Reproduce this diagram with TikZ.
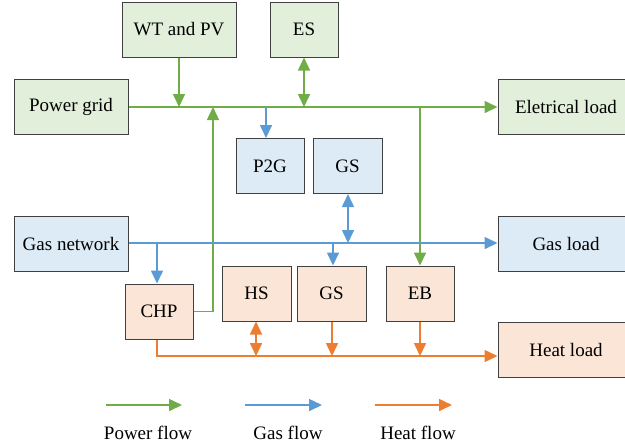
\documentclass[tikz,border=0pt]{standalone}
\usepackage{fontspec}
\setmainfont{Liberation Serif}
\usetikzlibrary{arrows.meta}

\definecolor{pwr}{HTML}{70AD47}
\definecolor{gas}{HTML}{5B9BD5}
\definecolor{heat}{HTML}{ED7D31}
\definecolor{pwrfill}{HTML}{E2EFDA}
\definecolor{gasfill}{HTML}{DDEBF7}
\definecolor{heatfill}{HTML}{FBE5D6}

\tikzset{
    unit/.style={draw=black!75, line width=0.5pt, inner sep=0pt, minimum height=27.5pt,
        font=\fontsize{9.5}{11}\selectfont},
    pbox/.style={unit, fill=pwrfill},
    gbox/.style={unit, fill=gasfill},
    hbox/.style={unit, fill=heatfill},
    flow/.style={line width=0.8pt, -{Triangle[length=6.5pt, width=6pt]}},
    bothflow/.style={line width=0.8pt, {Triangle[length=6.5pt, width=6pt]}-{Triangle[length=6.5pt, width=6pt]}},
}

\begin{document}
\begin{tikzpicture}[x=0.5pt, y=-0.5pt]
        \useasboundingbox (0,0) rectangle (625,447);
        \clip (0,0) rectangle (625,447);

        % --- Réseau électrique ---
        \node[pbox, minimum width=57pt] (wtpv)  at (179, 29.5) {WT and PV};
        \node[pbox, minimum width=34pt] (es)    at (304, 29.5) {ES};
        \node[pbox, minimum width=57pt] (grid)  at (71, 107)   {Power grid};
        \node[pbox, minimum width=68pt] (eload) at (566, 107)  {Eletrical load};

        % --- Réseau de gaz ---
        \node[gbox, minimum width=34pt]   (p2g)    at (270, 166)   {P2G};
        \node[gbox, minimum width=34.5pt] (gsup)   at (347.5, 166) {GS};
        \node[gbox, minimum width=57pt]   (gasnet) at (71, 243.5)  {Gas network};
        \node[gbox, minimum width=68pt]   (gload)  at (566, 243.5) {Gas load};

        % --- Réseau de chaleur ---
        \node[hbox, minimum width=34pt]   (chp)   at (159, 311.5)   {CHP};
        \node[hbox, minimum width=34.5pt] (hs)    at (256.5, 293.5) {HS};
        \node[hbox, minimum width=34.5pt] (gsdn)  at (331.5, 293.5) {GS};
        \node[hbox, minimum width=34pt]   (eb)    at (420, 293.5)   {EB};
        \node[hbox, minimum width=68pt]   (hload) at (566, 350)     {Heat load};

        % --- Points de jonction ---
        \coordinate (pwt)  at (179, 107);
        \coordinate (pes)  at (304, 107);
        \coordinate (pchp) at (213, 107);
        \coordinate (pp2g) at (266, 107);
        \coordinate (peb)  at (420, 107);
        \coordinate (gchp) at (157, 243);
        \coordinate (ggs)  at (348, 243);
        \coordinate (ggsd) at (333, 243);
        \coordinate (hchp) at (157, 356);
        \coordinate (hhs)  at (256, 356);
        \coordinate (hgs)  at (332, 356);
        \coordinate (heb)  at (420, 356);

        % ==============================================================
        % Flux électrique
        % ==============================================================
        \draw[flow, pwr] (grid.east) -- (eload.west);
        \draw[flow, pwr] (wtpv.south) -- (pwt);
        \draw[bothflow, pwr] (es.south) -- (pes);
        \draw[flow, pwr] (chp.east) -| (pchp);
        \draw[flow, pwr] (peb) -- (eb.north);
        \draw[flow, gas] (pp2g) -- (p2g.north -| pp2g);

        % ==============================================================
        % Flux de gaz
        % ==============================================================
        \draw[flow, gas] (gasnet.east |- 0,243) -- (gload.west |- 0,243);
        \draw[flow, gas] (gchp) -- (chp.north -| gchp);
        \draw[bothflow, gas] (gsup.south -| ggs) -- (ggs);
        \draw[flow, gas] (ggsd) -- (gsdn.north -| ggsd);

        % ==============================================================
        % Flux de chaleur
        % ==============================================================
        \draw[flow, heat] (chp.south -| hchp) -- (hchp) -- (hload.west |- hchp);
        \draw[bothflow, heat] (hs.south -| hhs) -- (hhs);
        \draw[flow, heat] (gsdn.south -| hgs) -- (hgs);
        \draw[flow, heat] (eb.south) -- (heb);

        % --- Légende ---
        \coordinate (lp1) at (106, 405);  \coordinate (lp2) at (182, 405);
        \coordinate (lg1) at (245, 405);  \coordinate (lg2) at (322, 405);
        \coordinate (lh1) at (375, 405);  \coordinate (lh2) at (452, 405);
        \draw[flow, pwr]  (lp1) -- (lp2);
        \draw[flow, gas]  (lg1) -- (lg2);
        \draw[flow, heat] (lh1) -- (lh2);
        \node[font=\fontsize{9.5}{11}\selectfont] (lpt) at (148, 433) {Power flow};
        \node[font=\fontsize{9.5}{11}\selectfont] (lgt) at (288, 433) {Gas flow};
        \node[font=\fontsize{9.5}{11}\selectfont] (lht) at (418, 433) {Heat flow};

    \end{tikzpicture}
\end{document}
